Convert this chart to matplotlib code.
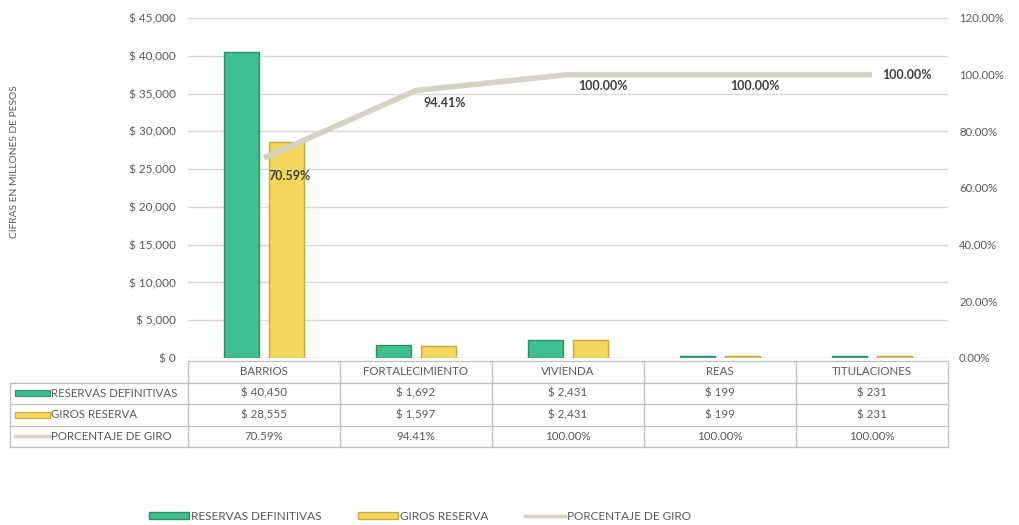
import matplotlib
matplotlib.use("Agg")
import matplotlib.pyplot as plt
from matplotlib.patches import Rectangle, Patch
from matplotlib.lines import Line2D

plt.rcParams['font.family'] = ['Lato', 'DejaVu Sans']

categories = ["BARRIOS", "FORTALECIMIENTO", "VIVIENDA", "REAS", "TITULACIONES"]
reservas = [40450, 1692, 2431, 199, 231]
giros = [28555, 1597, 2431, 199, 231]
porcentaje = [70.59, 94.41, 100.00, 100.00, 100.00]

series_names = ["RESERVAS DEFINITIVAS", "GIROS RESERVA", "PORCENTAJE DE GIRO"]
left_ticks = list(range(0, 45001, 5000))
right_ticks = list(range(0, 121, 20))

GREEN = "#3fbe8e"
GREEN_EDGE = "#2b8f68"
YELLOW = "#f4d65c"
YELLOW_EDGE = "#c6a83c"
LINE = "#d6d3c5"
TEXT = "#595959"
GRID = "#d9d9d9"
BORDER = "#bfbfbf"

W, H = 1019, 525
fig = plt.figure(figsize=(W / 100, H / 100), dpi=100)


def px_box(x0, y0, x1, y1):
    return [x0 / W, 1 - y1 / H, (x1 - x0) / W, (y1 - y0) / H]


ax = fig.add_axes(px_box(188, 18, 948, 358))
n = len(categories)
xs = list(range(n))
bw = 0.23
off = 0.145

ax.bar([x - off for x in xs], reservas, width=bw, color=GREEN,
       edgecolor=GREEN_EDGE, linewidth=1.0, zorder=3)
ax.bar([x + off for x in xs], giros, width=bw, color=YELLOW,
       edgecolor=YELLOW_EDGE, linewidth=1.0, zorder=3)

ax.set_xlim(-0.5, n - 0.5)
ax.set_ylim(0, 45000)
ax.set_yticks(left_ticks)
ax.set_yticklabels([f"$ {v:,}" for v in left_ticks], fontsize=8.5, color=TEXT)
ax.tick_params(axis='y', length=0, pad=9)
ax.set_xticks([])
ax.grid(axis='y', color=GRID, linewidth=1.0, zorder=0)
for s in ax.spines.values():
    s.set_visible(False)
ax.axhline(0, color=GRID, linewidth=1.0, zorder=2)

ax2 = ax.twinx()
ax2.set_ylim(0, 120)
ax2.set_yticks(right_ticks)
ax2.set_yticklabels([f"{v:.2f}%" for v in right_ticks], fontsize=8.2, color=TEXT)
ax2.tick_params(axis='y', length=0, pad=8)
for s in ax2.spines.values():
    s.set_visible(False)
ax2.plot(xs, porcentaje, color=LINE, linewidth=4.0, solid_capstyle='butt', zorder=4)

label_offsets = [(0.17, -6.5), (0.19, -4.5), (0.23, -4), (0.23, -4), (0.23, 0)]
for x, p, (dx, dy) in zip(xs, porcentaje, label_offsets):
    ax2.text(x + dx, p + dy, f"{p:.2f}%", fontsize=9, fontweight='bold',
             color="#404040", ha='center', va='center', zorder=5)

fig.text(15 / W, 1 - 162 / H, "CIFRAS EN MILLONES DE PESOS", rotation=90,
         fontsize=7.4, color=TEXT, ha='center', va='center')

# Data table under the plot area
tax = fig.add_axes(px_box(188, 361, 948, 447), sharex=ax)
tax.set_ylim(4, 0)
tax.axis('off')
left_edge = -0.5 - (188 - 10) / 152
row_lines = dict(color=BORDER, linewidth=0.9, clip_on=False)

tax.plot([-0.5, n - 0.5], [0, 0], **row_lines)
for r in range(1, 5):
    tax.plot([left_edge, n - 0.5], [r, r], **row_lines)
for c in range(n + 1):
    tax.plot([c - 0.5, c - 0.5], [0, 4], **row_lines)
tax.plot([left_edge, left_edge], [1, 4], **row_lines)

fs = 8.3
for c, name in enumerate(categories):
    tax.text(c, 0.5, name, ha='center', va='center', fontsize=fs, color=TEXT)
    tax.text(c, 1.5, f"$ {reservas[c]:,}", ha='center', va='center', fontsize=fs, color=TEXT)
    tax.text(c, 2.5, f"$ {giros[c]:,}", ha='center', va='center', fontsize=fs, color=TEXT)
    tax.text(c, 3.5, f"{porcentaje[c]:.2f}%", ha='center', va='center', fontsize=fs, color=TEXT)

key_x0 = left_edge + 5 / 152
key_x1 = left_edge + 40 / 152
tax.add_patch(Rectangle((key_x0, 1.35), key_x1 - key_x0, 0.3, facecolor=GREEN,
                        edgecolor=GREEN_EDGE, linewidth=0.8, clip_on=False))
tax.add_patch(Rectangle((key_x0, 2.35), key_x1 - key_x0, 0.3, facecolor=YELLOW,
                        edgecolor=YELLOW_EDGE, linewidth=0.8, clip_on=False))
tax.plot([key_x0, key_x1], [3.5, 3.5], color=LINE, linewidth=2.5, clip_on=False)
for r, name in enumerate(series_names):
    tax.text(key_x1 + 1 / 152, r + 1.5, name, ha='left', va='center',
             fontsize=fs, color=TEXT, clip_on=False)

handles = [
    Patch(facecolor=GREEN, edgecolor=GREEN_EDGE, label=series_names[0]),
    Patch(facecolor=YELLOW, edgecolor=YELLOW_EDGE, label=series_names[1]),
    Line2D([0], [0], color=LINE, linewidth=2.5, label=series_names[2]),
]
fig.legend(handles=handles, loc='center', bbox_to_anchor=(420 / W, 1 - 516 / H),
           ncol=3, frameon=False, fontsize=8.5, labelcolor=TEXT,
           handlelength=3.4, handleheight=0.6, handletextpad=0.15, columnspacing=3.1)

fig.savefig("out.png", dpi=100)
